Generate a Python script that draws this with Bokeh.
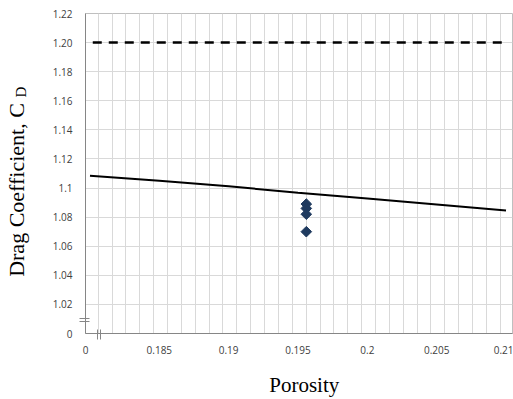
import numpy as np
from bokeh.plotting import figure
from bokeh.models import FixedTicker, Range1d, LinearAxis
from bokeh.embed import file_html
from bokeh.resources import INLINE

# ---- data ----
model_x = [0.180, 0.185, 0.190, 0.195, 0.200, 0.205, 0.210]
model_y = [1.1085, 1.1050, 1.1012, 1.0968, 1.0928, 1.0887, 1.0846]

limit_x = [0.1802, 0.2097]
limit_y = [1.20, 1.20]

meas_x = [0.1956, 0.1956, 0.1956, 0.1956]
meas_y = [1.089, 1.086, 1.082, 1.070]

x_min, x_max = 0.179676, 0.210468
y_min, y_max = 1.00, 1.22

x_tick_vals = [x_min, 0.185, 0.19, 0.195, 0.2, 0.205, 0.21]
x_tick_labels = ["0", "0.185", "0.19", "0.195", "0.2", "0.205", "0.21"]
x_grid_vals = [0.18059 + 0.001 * k for k in range(30)]
x_break_vals = [0.18054, 0.18076]

y_tick_vals = [1.00, 1.02, 1.04, 1.06, 1.08, 1.10, 1.12, 1.14, 1.16, 1.18, 1.20, 1.22]
y_tick_labels = ["0", "1.02", "1.04", "1.06", "1.08", "1.1", "1.12", "1.14",
                 "1.16", "1.18", "1.20", "1.22"]
y_grid_vals = [1.02, 1.04, 1.06, 1.08, 1.10, 1.12, 1.14, 1.16, 1.18, 1.20]
y_break_vals = [1.0085, 1.0103]

y_title = "Drag Coefficient, C"
y_title_sub = "D"
y_title_sub_pos = 1.166
x_title = "Porosity"

p = figure(width=513, height=399, output_backend="svg", toolbar_location=None,
           x_range=Range1d(x_min, x_max), y_range=Range1d(y_min, y_max),
           min_border_left=84, min_border_right=1, min_border_top=13,
           min_border_bottom=66)
p.background_fill_color = "white"
p.border_fill_color = "white"
p.outline_line_color = "#bfbfbf"
p.outline_line_width = 1

tick_font = "Open Sans"
tick_color = "#404040"
axis_color = "#868686"
title_font = "Liberation Serif"

# x axis
p.xaxis.ticker = FixedTicker(ticks=x_tick_vals, minor_ticks=x_break_vals)
p.xaxis.major_label_overrides = dict(zip(x_tick_vals, x_tick_labels))
p.xaxis.major_tick_line_color = None
p.xaxis.major_tick_out = 0
p.xaxis.major_tick_in = 0
p.xaxis.minor_tick_in = 4
p.xaxis.minor_tick_out = 6
p.xaxis.minor_tick_line_color = axis_color
p.xaxis.axis_line_color = axis_color
p.xaxis.major_label_text_font = tick_font
p.xaxis.major_label_text_font_size = "10px"
p.xaxis.major_label_text_color = tick_color
p.xaxis.major_label_standoff = 6
p.xaxis.axis_label = "\u2002" + x_title
p.xaxis.axis_label_text_font = title_font
p.xaxis.axis_label_text_font_size = "21px"
p.xaxis.axis_label_text_font_style = "normal"
p.xaxis.axis_label_text_color = "black"
p.xaxis.axis_label_standoff = 16

# y axis
p.yaxis.ticker = FixedTicker(ticks=y_tick_vals, minor_ticks=y_break_vals)
p.yaxis.major_label_overrides = dict(zip(y_tick_vals, y_tick_labels))
p.yaxis.major_tick_line_color = None
p.yaxis.major_tick_out = 0
p.yaxis.major_tick_in = 0
p.yaxis.minor_tick_in = 4
p.yaxis.minor_tick_out = 6
p.yaxis.minor_tick_line_color = axis_color
p.yaxis.axis_line_color = axis_color
p.yaxis.major_label_text_font = tick_font
p.yaxis.major_label_text_font_size = "10px"
p.yaxis.major_label_text_color = tick_color
p.yaxis.major_label_standoff = 7

# outer left axis carrying the y title and its subscript
title_axis = LinearAxis(ticker=FixedTicker(ticks=[y_title_sub_pos]),
                        major_label_overrides={y_title_sub_pos: y_title_sub},
                        axis_line_color=None, major_tick_line_color=None,
                        minor_tick_line_color=None, major_tick_out=0,
                        major_tick_in=0, minor_tick_out=0, minor_tick_in=0,
                        major_label_orientation="parallel",
                        major_label_text_font=title_font,
                        major_label_text_font_size="15px",
                        major_label_text_color="black",
                        major_label_standoff=20,
                        axis_label=y_title + "\u2003\u2002",
                        axis_label_text_font=title_font,
                        axis_label_text_font_size="22px",
                        axis_label_text_font_style="normal",
                        axis_label_text_color="black",
                        axis_label_standoff=-18)
p.add_layout(title_axis, "left")

# grids
p.xgrid.ticker = FixedTicker(ticks=x_grid_vals)
p.ygrid.ticker = FixedTicker(ticks=y_grid_vals)
p.xgrid.grid_line_color = "#d9d9d9"
p.ygrid.grid_line_color = "#d9d9d9"

# series
p.line(limit_x, limit_y, line_color="black", line_width=2.5, line_dash="9 7")
p.line(model_x, model_y, line_color="black", line_width=2)
p.scatter(meas_x, meas_y, marker="square", angle=np.pi / 4, size=7.5,
          fill_color="#1f3a5f", line_color="#1f3a5f")

open("out.html", "w").write(file_html(p, INLINE))
